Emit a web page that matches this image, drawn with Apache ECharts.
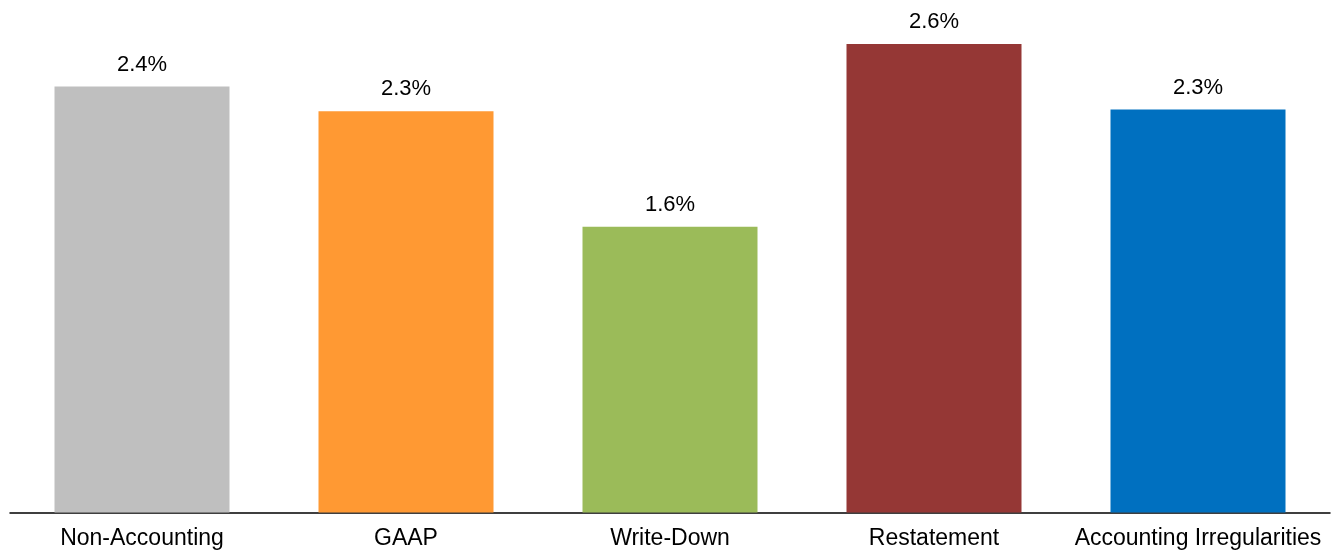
<!DOCTYPE html>
<html>
<head>
<meta charset="utf-8">
<script src="https://cdn.jsdelivr.net/npm/echarts@6/dist/echarts.min.js"></script>
<style>
html,body{margin:0;padding:0;background:#fff;}
#chart{width:1337px;height:552px;}
</style>
</head>
<body>
<div id="chart"></div>
<script>
const categories = ["Non-Accounting", "GAAP", "Write-Down", "Restatement", "Accounting Irregularities"];
const values = [2.40, 2.26, 1.61, 2.64, 2.27];
const colors = ["#BFBFBF", "#FF9933", "#9BBB59", "#953735", "#0070C0"];

const chart = echarts.init(document.getElementById('chart'));
chart.setOption({
  animation: false,
  grid: {left: 10, right: 7, top: 15.5, bottom: 39.5, containLabel: false},
  xAxis: {
    type: 'category',
    data: categories,
    axisLine: {lineStyle: {color: '#000', width: 1.5}},
    axisTick: {show: false},
    axisLabel: {color: '#000', fontSize: 23, fontFamily: 'Liberation Sans, Arial, sans-serif', margin: 15, interval: 0}
  },
  yAxis: {
    type: 'value',
    min: 0,
    max: 2.8,
    show: false,
    splitLine: {show: false}
  },
  series: [{
    type: 'bar',
    barWidth: 175,
    data: values.map((v, i) => ({value: v, itemStyle: {color: colors[i]}})),
    label: {
      show: true,
      position: 'top',
      distance: 11,
      color: '#000',
      fontSize: 22,
      fontFamily: 'Liberation Sans, Arial, sans-serif',
      formatter: p => p.value.toFixed(1) + '%'
    }
  }]
});
</script>
</body>
</html>
